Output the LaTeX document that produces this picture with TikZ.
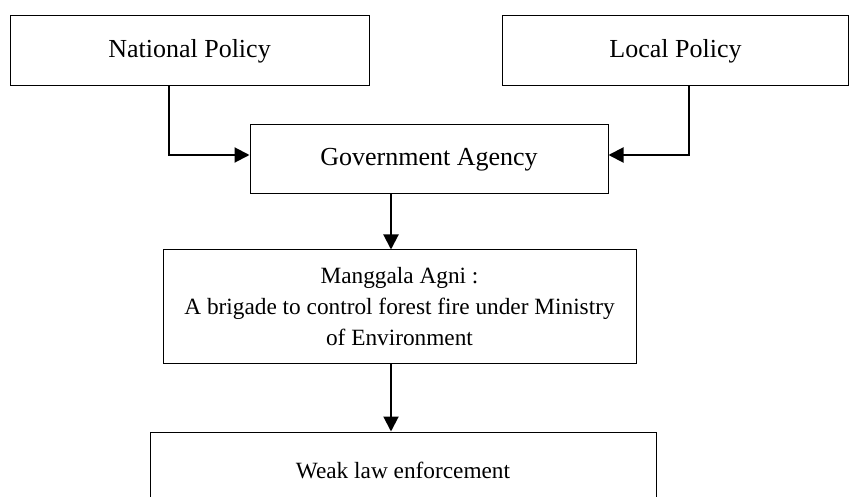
\documentclass[tikz,border=0pt]{standalone}
\usepackage{fontspec}
\setmainfont{Liberation Serif}
\usetikzlibrary{arrows.meta}
\begin{document}
\begin{tikzpicture}[x=1pt,y=-1pt,
  box/.style={draw=black,line width=1pt,inner sep=0pt,align=center,
    font=\fontsize{23.3}{31}\selectfont},
  bigbox/.style={box,font=\fontsize{26}{31}\selectfont},
  arr/.style={line width=2pt,-{Triangle[length=15pt,width=15pt]}}]
\clip (0,0) rectangle (849,497);
\fill[white] (0,0) rectangle (849,497);
\node[bigbox,minimum width=359pt,minimum height=70pt] (nat) at (189.5,51) {National Policy};
\node[bigbox,minimum width=346pt,minimum height=70pt] (loc) at (675.5,51) {Local Policy};
\node[bigbox,minimum width=358pt,minimum height=69pt] (gov) at (429,159.5) {Government Agency};
\node[box,minimum width=473pt,minimum height=113pt] (mang) at (399.5,306.5) {Manggala Agni :\\A brigade to control forest fire under Ministry\\of Environment};
\node[box,minimum width=506pt,minimum height=76pt] (weak) at (403,470) {Weak law enforcement};
\coordinate (nx) at (169,0);
\coordinate (lx) at (689,0);
\coordinate (cx) at (391,0);
\draw[arr] (nat.south -| nx) |- ([yshift=4.5pt]gov.west);
\draw[arr] (loc.south -| lx) |- ([yshift=4.5pt]gov.east);
\draw[arr] (gov.south -| cx) -- (mang.north -| cx);
\draw[arr] (mang.south -| cx) -- (weak.north -| cx);
\end{tikzpicture}
\end{document}
